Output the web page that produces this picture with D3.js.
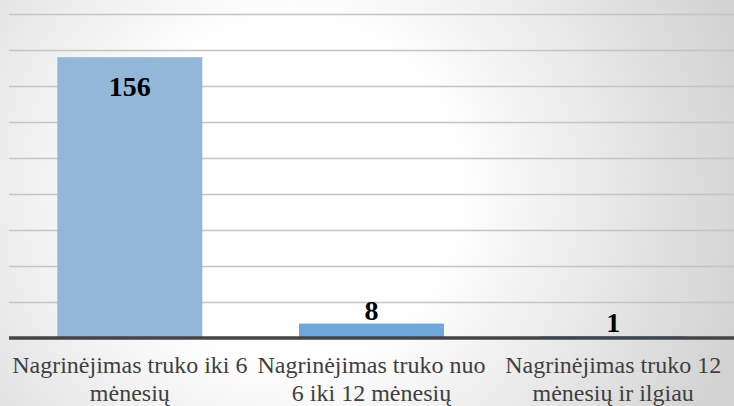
<!DOCTYPE html>
<html>
<head>
<meta charset="utf-8">
<script src="https://cdn.jsdelivr.net/npm/d3@7"></script>
<style>
	html, body { margin: 0; padding: 0; }
	svg { display: block; }
	.serif { font-family: 'Liberation Serif', 'DejaVu Serif', serif; }
</style>
</head>
<body>
<div id="chart"></div>
<script>
var categories = [
	['Nagrinėjimas truko iki 6', 'mėnesių'],
	['Nagrinėjimas truko nuo', '6 iki 12 mėnesių'],
	['Nagrinėjimas truko 12', 'mėnesių ir ilgiau']
];
var values = [156, 8, 1];
var barColors = ['#93b7d8', '#6fa7da', '#6fa7da'];
var yTicks = [0, 20, 40, 60, 80, 100, 120, 140, 160, 180];

(function ()	{
	'use strict';

	var width = 734, height = 406;
	var svg = d3.select('#chart').append('svg')
							.attr('width', width)
							.attr('height', height);

	var defs = svg.append('defs');
	var rg = defs.append('radialGradient')
							 .attr('id', 'bg_gradient')
							 .attr('gradientUnits', 'userSpaceOnUse')
							 .attr('cx', 290).attr('cy', 190).attr('r', 470);
	rg.append('stop').attr('offset', '0%').attr('stop-color', '#ffffff');
	rg.append('stop').attr('offset', '35%').attr('stop-color', '#ffffff');
	rg.append('stop').attr('offset', '100%').attr('stop-color', '#d2d2d2');

	svg.append('rect')
		 .attr('width', width).attr('height', height)
		 .style('fill', 'url(#bg_gradient)');

	var x = d3.scaleBand()
						.domain(d3.range(values.length))
						.range([9, 734])
						.paddingInner(0.4)
						.paddingOuter(0.2);

	var y = d3.scaleLinear()
						.domain([0, 180])
						.range([338, 14]);

	// gridlines
	svg.append('g').selectAll('line')
		 .data(yTicks.slice(1))
		 .enter().append('line')
		 .attr('x1', 9).attr('x2', width)
		 .attr('y1', function (d) { return Math.round(y(d)) + 0.5; })
		 .attr('y2', function (d) { return Math.round(y(d)) + 0.5; })
		 .style('stroke', '#c4c4c4')
		 .style('stroke-width', 1.5);

	// bars
	svg.append('g').selectAll('rect')
		 .data(values)
		 .enter().append('rect')
		 .attr('x', function (d, i) { return x(i); })
		 .attr('y', function (d) { return y(d); })
		 .attr('width', x.bandwidth())
		 .attr('height', function (d) { return y(0) - y(d); })
		 .style('fill', function (d, i) { return barColors[i]; });

	// baseline
	svg.append('line')
		 .attr('x1', 9).attr('x2', width)
		 .attr('y1', y(0)).attr('y2', y(0))
		 .style('stroke', '#454545')
		 .style('stroke-width', 3.5);

	// value labels
	svg.append('g').selectAll('text')
		 .data(values)
		 .enter().append('text')
		 .attr('class', 'serif')
		 .attr('x', function (d, i) { return x(i) + x.bandwidth() / 2; })
		 .attr('y', function (d) {
			 return d > 50 ? y(d) + 39 : y(d) - 4;
		 })
		 .attr('text-anchor', 'middle')
		 .style('font-weight', 'bold')
		 .style('font-size', '28px')
		 .style('fill', '#000')
		 .text(function (d) { return d; });

	// category labels
	var cat = svg.append('g').selectAll('text')
							 .data(categories)
							 .enter().append('text')
							 .attr('class', 'serif')
							 .attr('text-anchor', 'middle')
							 .style('font-size', '24px')
							 .style('fill', '#404040');

	cat.each(function (lines, i)	{
		var t = d3.select(this);
		lines.forEach(function (line, j)	{
			t.append('tspan')
			 .attr('x', x(i) + x.bandwidth() / 2)
			 .attr('y', 373 + j * 28)
			 .text(line);
		});
	});
})();
</script>
</body>
</html>
